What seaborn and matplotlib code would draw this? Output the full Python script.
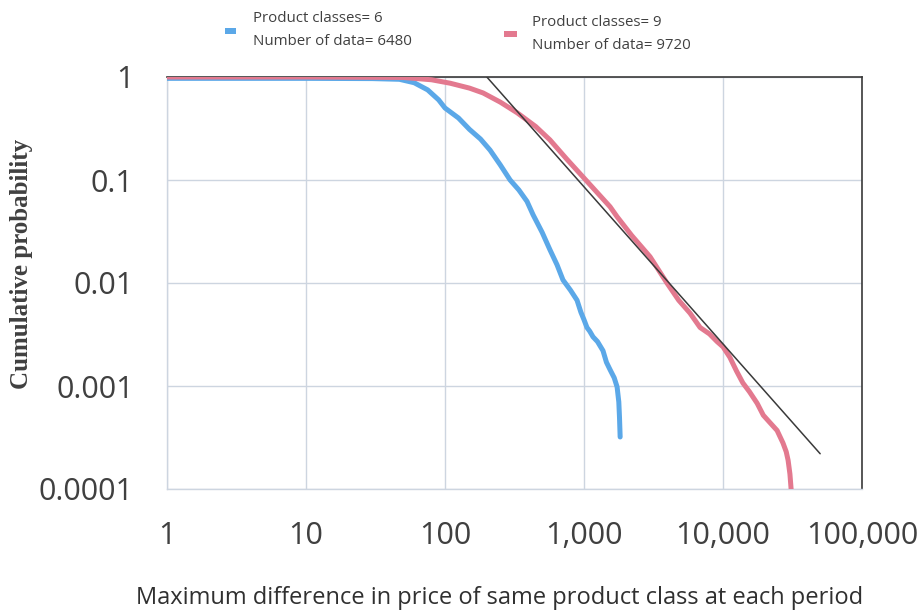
import numpy as np
import pandas as pd
import matplotlib
matplotlib.use("Agg")
import matplotlib.pyplot as plt
import seaborn as sns
from matplotlib.ticker import FixedLocator, FixedFormatter, NullLocator
from matplotlib.patches import Rectangle

# ---- data ----
blue_x = [1, 10, 30, 47, 60, 75, 90, 100, 125, 150, 180, 211, 250, 294, 340, 389, 430, 500, 569, 640, 706, 800, 891, 950, 1000, 1050, 1100, 1161, 1250, 1370, 1450, 1540, 1650, 1730, 1780, 1800, 1820]
blue_y = [0.97, 0.97, 0.965, 0.95, 0.88, 0.75, 0.60, 0.50, 0.40, 0.31, 0.25, 0.195, 0.14, 0.10, 0.08, 0.062, 0.046, 0.031, 0.021, 0.015, 0.0107, 0.0085, 0.0068, 0.0052, 0.0044, 0.0037, 0.0034, 0.0030, 0.0027, 0.0022, 0.0017, 0.00144, 0.0012, 0.00098, 0.0007, 0.0005, 0.00032]
pink_x = [1, 10, 50, 80, 109, 150, 188, 250, 330, 450, 569, 750, 984, 1250, 1540, 1730, 2200, 2985, 3950, 4800, 5790, 6840, 8000, 9060, 10000, 11200, 12500, 13900, 15500, 17600, 19500, 21800, 24500, 27000, 28500, 29400, 30300, 30900]
pink_y = [1.0, 1.0, 0.99, 0.94, 0.87, 0.78, 0.70, 0.57, 0.45, 0.33, 0.245, 0.16, 0.107, 0.075, 0.055, 0.044, 0.029, 0.018, 0.010, 0.0068, 0.0051, 0.0037, 0.0032, 0.0027, 0.0024, 0.0019, 0.0014, 0.00107, 0.00088, 0.00068, 0.00052, 0.00044, 0.00037, 0.00028, 0.00023, 0.00019, 0.00014, 0.0001]
fit_x = [200, 50000]
fit_y = [1.0, 0.00022]

label_blue = "Product classes= 6\nNumber of data= 6480"
label_pink = "Product classes= 9\nNumber of data= 9720"
xticks = [1, 10, 100, 1000, 10000, 100000]
xtick_labels = ["1", "10", "100", "1,000", "10,000", "100,000"]
yticks = [0.0001, 0.001, 0.01, 0.1, 1]
ytick_labels = ["0.0001", "0.001", "0.01", "0.1", "1"]
xlabel = "Maximum difference in price of same product class at each period"
ylabel = "Cumulative probability"

blue_c = "#5ba8e8"
pink_c = "#e3798f"
dark = "#3a3a3a"
grid_c = "#cdd5e0"

sns.set_theme(style="white")
plt.rcParams["font.family"] = ["Open Sans", "DejaVu Sans"]

W, H = 923, 610
fig = plt.figure(figsize=(W/100, H/100), dpi=100)
ax = fig.add_axes([167/W, 1-489/H, (862-167)/W, (489-77)/H])

df_b = pd.DataFrame({"x": blue_x, "y": blue_y})
df_p = pd.DataFrame({"x": pink_x, "y": pink_y})
df_f = pd.DataFrame({"x": fit_x, "y": fit_y})

sns.lineplot(data=df_b, x="x", y="y", ax=ax, color=blue_c, lw=3.6, sort=False, estimator=None, zorder=3)
sns.lineplot(data=df_p, x="x", y="y", ax=ax, color=pink_c, lw=3.6, sort=False, estimator=None, zorder=3)
sns.lineplot(data=df_f, x="x", y="y", ax=ax, color=dark, lw=1.1, sort=False, estimator=None, zorder=4)

ax.set_xscale("log")
ax.set_yscale("log")
ax.set_xlim(1, 100000)
ax.set_ylim(0.0001, 1)
ax.xaxis.set_major_locator(FixedLocator(xticks))
ax.xaxis.set_major_formatter(FixedFormatter(xtick_labels))
ax.yaxis.set_major_locator(FixedLocator(yticks))
ax.yaxis.set_major_formatter(FixedFormatter(ytick_labels))
ax.xaxis.set_minor_locator(NullLocator())
ax.yaxis.set_minor_locator(NullLocator())
ax.grid(True, which="major", color=grid_c, lw=1.0)
ax.tick_params(axis="x", length=0, labelsize=22, labelcolor="#404040", pad=23)
ax.tick_params(axis="y", length=0, labelsize=22, labelcolor="#404040", pad=24)

for s in ["left", "bottom"]:
    ax.spines[s].set_color(grid_c)
    ax.spines[s].set_linewidth(1.0)
for s in ["top", "right"]:
    ax.spines[s].set_color(dark)
    ax.spines[s].set_linewidth(1.2)

ax.set_xlabel(xlabel, fontsize=17, color="#303030", va="center")
ax.xaxis.set_label_coords((500-167)/695, (489-598)/412)
ax.set_ylabel(ylabel, fontsize=18, color="#404040", fontweight="bold",
              family=["Liberation Serif", "DejaVu Serif"], va="center")
ax.yaxis.set_label_coords((22-167)/695, (489-264)/412)

# legend (manual, top of figure)
fig.patches.append(Rectangle((225/W, 1-33.5/H), 11/W, 5/H, transform=fig.transFigure,
                             facecolor=blue_c, edgecolor="none"))
fig.patches.append(Rectangle((504/W, 1-36.5/H), 13/W, 5/H, transform=fig.transFigure,
                             facecolor=pink_c, edgecolor="none"))
fig.text(253/W, 1-30/H, label_blue, fontsize=10.8, color="#404040", va="center", ha="left", linespacing=1.65)
fig.text(532/W, 1-34/H, label_pink, fontsize=10.8, color="#404040", va="center", ha="left", linespacing=1.65)

fig.savefig("out.png", dpi=100, facecolor="white")
